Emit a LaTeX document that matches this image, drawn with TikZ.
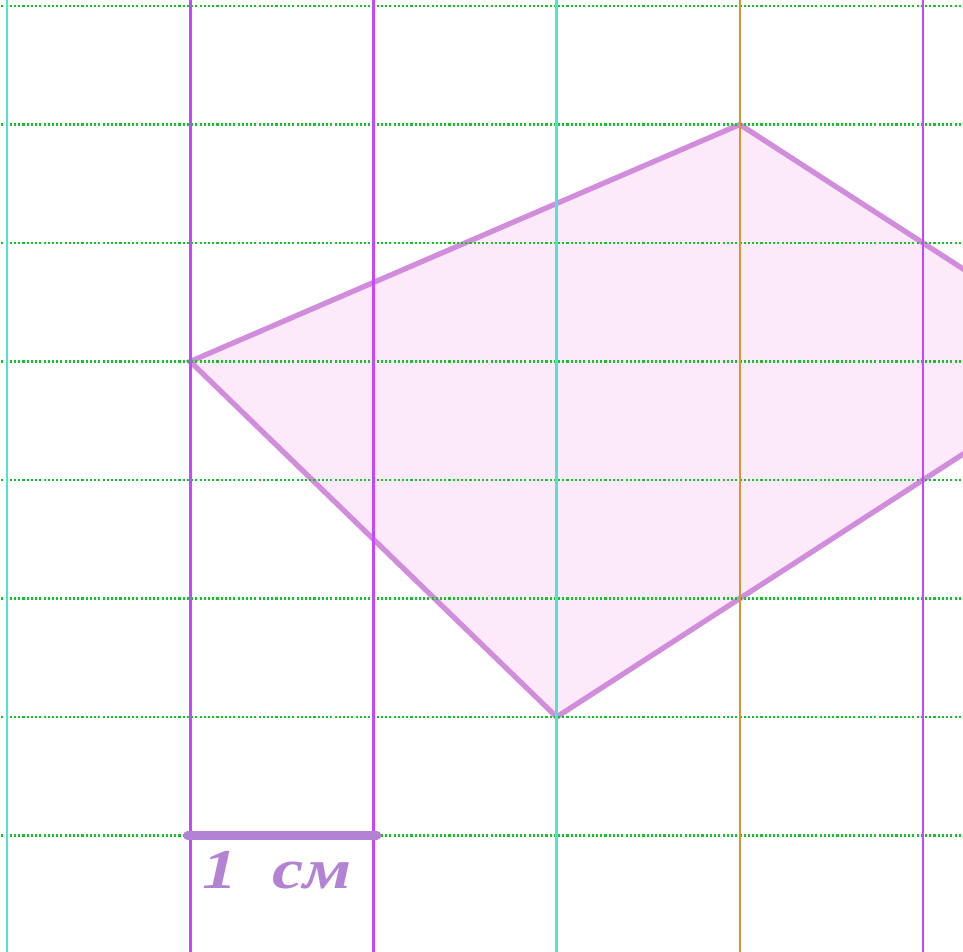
\documentclass[tikz,border=0pt]{standalone}
\usepackage{fontspec}
\setmainfont{Liberation Serif}
\usetikzlibrary{
    positioning,   % Relative positioning
    calc           % Coordinate calculations
}
\definecolor{GridViolet}{RGB}{200,70,255}
\definecolor{GridCyan}{RGB}{80,225,215}
\definecolor{GridOrange}{RGB}{215,150,50}
\definecolor{GridGreen}{RGB}{20,195,40}
\definecolor{ShapeFill}{RGB}{252,234,250}
\definecolor{ShapeEdge}{RGB}{210,140,220}
\definecolor{ScaleBar}{RGB}{180,130,210}
\tikzset{grid vertical/.style={
    line width=0.75pt
}}
\tikzset{grid horizontal/.style={
    GridGreen,
    line width=0.6pt,
    dash pattern=on 0.6pt off 0.6pt
}}
\tikzset{shape edge/.style={
    draw=ShapeEdge,
    line width=1.5pt,
    line join=miter,
    fill=ShapeFill
}}
\tikzset{scale bar/.style={
    draw=ScaleBar,
    line width=2.4pt,
    line cap=round
}}
\tikzset{scale label/.style={
    text=ScaleBar,
    font=\fontsize{16}{16}\selectfont\bfseries\itshape,
    inner sep=0pt
}}

\begin{document}
\begin{tikzpicture}[x=1.832cm, y=-1.185cm]
    \useasboundingbox (-0.0382,-0.0506) rectangle (5.2183,7.9747);
    \clip (-0.0382,-0.0506) rectangle (5.2183,7.9747);

    % the shaded quadrilateral
    \coordinate (left) at (1,3);
    \coordinate (top) at (4,1);
    \coordinate (right) at (6,3);
    \coordinate (bottom) at (3,6);
    \path[shape edge] (left) -- (top) -- (right) -- (bottom) -- cycle;

    % grid lines
    \foreach \row in {0,...,7}
        \draw[grid horizontal] (-0.1,\row) -- (5.3,\row);
    \foreach \col/\clr in {0/GridCyan,1/GridViolet,2/GridViolet,3/GridCyan,4/GridOrange,5/GridViolet}
        \draw[grid vertical, \clr] (\col,-0.1) -- (\col,8.1);

    % scale bar
    \coordinate (bar start) at (0.985,7);
    \coordinate (bar end) at (2.02,7);
    \draw[scale bar] (bar start) -- (bar end);
    \node[scale label, xscale=1.25] (bar label) at (1.474,7.29) {1\enspace см};
\end{tikzpicture}
\end{document}
